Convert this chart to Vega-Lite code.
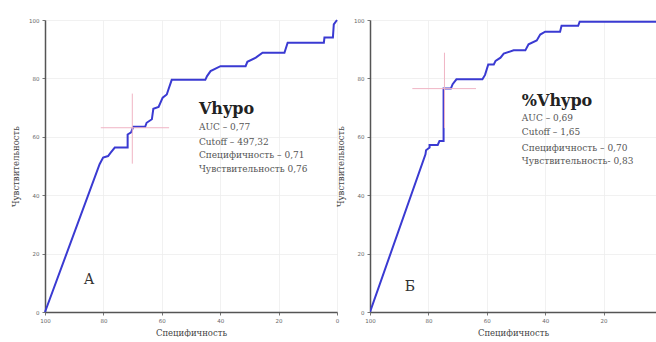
{
  "$schema": "https://vega.github.io/schema/vega-lite/v6.json",
  "padding": {"left": 11, "top": 16, "right": 0, "bottom": 0},
  "background": "white",
  "spacing": 33,
  "bounds": "flush",
  "datasets": {
    "curve": [
      {"panel": "A", "i": 1, "spec": 100, "sens": 0},
      {"panel": "A", "i": 2, "spec": 81.3, "sens": 50.6},
      {"panel": "A", "i": 3, "spec": 80.1, "sens": 52.9},
      {"panel": "A", "i": 4, "spec": 78.4, "sens": 53.4},
      {"panel": "A", "i": 5, "spec": 77.5, "sens": 54.6},
      {"panel": "A", "i": 6, "spec": 76.1, "sens": 56.3},
      {"panel": "A", "i": 7, "spec": 71.7, "sens": 56.3},
      {"panel": "A", "i": 8, "spec": 71.7, "sens": 60.8},
      {"panel": "A", "i": 9, "spec": 70.5, "sens": 61.5},
      {"panel": "A", "i": 10, "spec": 69.8, "sens": 63.4},
      {"panel": "A", "i": 11, "spec": 65.7, "sens": 63.4},
      {"panel": "A", "i": 12, "spec": 65.2, "sens": 64.8},
      {"panel": "A", "i": 13, "spec": 63.4, "sens": 66.0},
      {"panel": "A", "i": 14, "spec": 62.9, "sens": 69.6},
      {"panel": "A", "i": 15, "spec": 61.1, "sens": 70.2},
      {"panel": "A", "i": 16, "spec": 59.7, "sens": 73.4},
      {"panel": "A", "i": 17, "spec": 58.3, "sens": 74.5},
      {"panel": "A", "i": 18, "spec": 57.7, "sens": 76.3},
      {"panel": "A", "i": 19, "spec": 56.6, "sens": 79.5},
      {"panel": "A", "i": 20, "spec": 45.1, "sens": 79.5},
      {"panel": "A", "i": 21, "spec": 44.5, "sens": 80.8},
      {"panel": "A", "i": 22, "spec": 43.3, "sens": 82.5},
      {"panel": "A", "i": 23, "spec": 39.9, "sens": 84.2},
      {"panel": "A", "i": 24, "spec": 31.3, "sens": 84.2},
      {"panel": "A", "i": 25, "spec": 30.7, "sens": 85.7},
      {"panel": "A", "i": 26, "spec": 27.8, "sens": 87.1},
      {"panel": "A", "i": 27, "spec": 25.5, "sens": 88.8},
      {"panel": "A", "i": 28, "spec": 18.0, "sens": 88.8},
      {"panel": "A", "i": 29, "spec": 16.9, "sens": 92.2},
      {"panel": "A", "i": 30, "spec": 4.5, "sens": 92.2},
      {"panel": "A", "i": 31, "spec": 4.3, "sens": 94.0},
      {"panel": "A", "i": 32, "spec": 1.4, "sens": 94.0},
      {"panel": "A", "i": 33, "spec": 1.1, "sens": 98.5},
      {"panel": "A", "i": 34, "spec": 0, "sens": 100},
      {"panel": "B", "i": 1, "spec": 100, "sens": 0},
      {"panel": "B", "i": 2, "spec": 81.0, "sens": 54.0},
      {"panel": "B", "i": 3, "spec": 80.8, "sens": 55.4},
      {"panel": "B", "i": 4, "spec": 79.6, "sens": 56.3},
      {"panel": "B", "i": 5, "spec": 79.6, "sens": 57.2},
      {"panel": "B", "i": 6, "spec": 76.8, "sens": 57.2},
      {"panel": "B", "i": 7, "spec": 76.2, "sens": 58.6},
      {"panel": "B", "i": 8, "spec": 74.8, "sens": 58.6},
      {"panel": "B", "i": 9, "spec": 74.8, "sens": 76.5},
      {"panel": "B", "i": 10, "spec": 72.3, "sens": 76.5},
      {"panel": "B", "i": 11, "spec": 71.7, "sens": 78.0},
      {"panel": "B", "i": 12, "spec": 70.4, "sens": 79.7},
      {"panel": "B", "i": 13, "spec": 61.5, "sens": 79.7},
      {"panel": "B", "i": 14, "spec": 60.6, "sens": 81.2},
      {"panel": "B", "i": 15, "spec": 59.5, "sens": 84.8},
      {"panel": "B", "i": 16, "spec": 57.6, "sens": 84.8},
      {"panel": "B", "i": 17, "spec": 57.0, "sens": 86.0},
      {"panel": "B", "i": 18, "spec": 55.3, "sens": 87.1},
      {"panel": "B", "i": 19, "spec": 54.2, "sens": 88.5},
      {"panel": "B", "i": 20, "spec": 50.8, "sens": 89.6},
      {"panel": "B", "i": 21, "spec": 46.8, "sens": 89.6},
      {"panel": "B", "i": 22, "spec": 45.7, "sens": 91.7},
      {"panel": "B", "i": 23, "spec": 42.9, "sens": 93.0},
      {"panel": "B", "i": 24, "spec": 41.7, "sens": 95.0},
      {"panel": "B", "i": 25, "spec": 40.0, "sens": 96.0},
      {"panel": "B", "i": 26, "spec": 34.9, "sens": 96.0},
      {"panel": "B", "i": 27, "spec": 34.4, "sens": 98.0},
      {"panel": "B", "i": 28, "spec": 28.7, "sens": 98.0},
      {"panel": "B", "i": 29, "spec": 28.2, "sens": 99.4},
      {"panel": "B", "i": 30, "spec": 0, "sens": 99.4}
    ],
    "cross": [
      {"panel": "A", "spec": 80.9, "spec2": 57.5, "sens": 63.1, "sens2": 63.1},
      {"panel": "A", "spec": 70.1, "spec2": 70.1, "sens": 74.8, "sens2": 50.8},
      {"panel": "B", "spec": 85.5, "spec2": 63.7, "sens": 76.5, "sens2": 76.5},
      {"panel": "B", "spec": 74.5, "spec2": 74.5, "sens": 88.8, "sens2": 63.0}
    ],
    "notes": [
      {"panel": "A", "kind": "title", "spec": 47.3, "sens": 67.8, "label": "Vhypo"},
      {"panel": "A", "kind": "line", "spec": 47.3, "sens": 62.3, "label": "AUC – 0,77"},
      {"panel": "A", "kind": "line", "spec": 47.3, "sens": 57.2, "label": "Cutoff – 497,32"},
      {"panel": "A", "kind": "line", "spec": 47.3, "sens": 52.7, "label": "Специфичность  – 0,71"},
      {"panel": "A", "kind": "line", "spec": 47.3, "sens": 47.9, "label": "Чувствительность 0,76"},
      {"panel": "A", "kind": "letter", "spec": 84.9, "sens": 11.0, "label": "А"},
      {"panel": "B", "kind": "title", "spec": 48.0, "sens": 70.5, "label": "%Vhypo"},
      {"panel": "B", "kind": "line", "spec": 48.0, "sens": 65.4, "label": "AUC – 0,69"},
      {"panel": "B", "kind": "line", "spec": 48.0, "sens": 60.6, "label": "Cutoff – 1,65"},
      {"panel": "B", "kind": "line", "spec": 48.0, "sens": 55.1, "label": "Специфичность  – 0,70"},
      {"panel": "B", "kind": "line", "spec": 48.0, "sens": 50.7, "label": "Чувствительность- 0,83"},
      {"panel": "B", "kind": "letter", "spec": 86.3, "sens": 8.6, "label": "Б"}
    ]
  },
  "hconcat": [
    {
      "width": 292,
      "height": 292,
      "layer": [
        {
          "data": {"name": "curve"},
          "transform": [{"filter": "datum.panel == 'A'"}],
          "mark": {"type": "line", "color": "#3a3ad2", "strokeWidth": 2},
          "encoding": {
            "x": {"field": "spec", "type": "quantitative", "title": "Специфичность", "scale": {"domain": [100, 0], "nice": false},
                  "axis": {"values": [0, 10, 20, 30, 40, 50, 60, 70, 80, 90, 100], "labelExpr": "datum.value % 20 == 0 ? datum.label : ''"}},
            "y": {"field": "sens", "type": "quantitative", "title": "Чувствительность", "scale": {"domain": [0, 100], "nice": false},
                  "axis": {"values": [0, 10, 20, 30, 40, 50, 60, 70, 80, 90, 100], "labelExpr": "datum.value % 20 == 0 ? datum.label : ''"}},
            "order": {"field": "i", "type": "quantitative"}
          }
        },
        {
          "data": {"name": "cross"},
          "transform": [{"filter": "datum.panel == 'A'"}],
          "mark": {"type": "rule", "color": "#f0b4c4", "strokeWidth": 1},
          "encoding": {
            "x": {"field": "spec", "type": "quantitative", "title": "Специфичность"},
            "x2": {"field": "spec2"},
            "y": {"field": "sens", "type": "quantitative", "title": "Чувствительность"},
            "y2": {"field": "sens2"}
          }
        },
        {
          "data": {"name": "notes"},
          "transform": [{"filter": "datum.panel == 'A' && datum.kind == 'title'"}],
          "mark": {"type": "text", "align": "left", "baseline": "alphabetic", "font": "DejaVu Serif", "fontWeight": "bold", "fontSize": 16, "color": "#222"},
          "encoding": {
            "x": {"field": "spec", "type": "quantitative", "title": "Специфичность"},
            "y": {"field": "sens", "type": "quantitative", "title": "Чувствительность"},
            "text": {"field": "label"}
          }
        },
        {
          "data": {"name": "notes"},
          "transform": [{"filter": "datum.panel == 'A' && datum.kind == 'line'"}],
          "mark": {"type": "text", "align": "left", "baseline": "alphabetic", "font": "DejaVu Serif", "fontSize": 9, "color": "#555"},
          "encoding": {
            "x": {"field": "spec", "type": "quantitative", "title": "Специфичность"},
            "y": {"field": "sens", "type": "quantitative", "title": "Чувствительность"},
            "text": {"field": "label"}
          }
        },
        {
          "data": {"name": "notes"},
          "transform": [{"filter": "datum.panel == 'A' && datum.kind == 'letter'"}],
          "mark": {"type": "text", "align": "center", "baseline": "middle", "font": "DejaVu Serif", "fontSize": 14, "color": "#333"},
          "encoding": {
            "x": {"field": "spec", "type": "quantitative", "title": "Специфичность"},
            "y": {"field": "sens", "type": "quantitative", "title": "Чувствительность"},
            "text": {"field": "label"}
          }
        }
      ]
    },
    {
      "width": 286,
      "height": 292,
      "layer": [
        {
          "data": {"name": "curve"},
          "transform": [{"filter": "datum.panel == 'B'"}],
          "mark": {"type": "line", "color": "#3a3ad2", "strokeWidth": 2, "clip": true},
          "encoding": {
            "x": {"field": "spec", "type": "quantitative", "title": "Специфичность", "scale": {"domain": [100, 2.05], "nice": false},
                  "axis": {"values": [10, 20, 30, 40, 50, 60, 70, 80, 90, 100], "labelExpr": "datum.value % 20 == 0 ? datum.label : ''"}},
            "y": {"field": "sens", "type": "quantitative", "title": "Чувствительность", "scale": {"domain": [0, 100], "nice": false},
                  "axis": {"values": [0, 10, 20, 30, 40, 50, 60, 70, 80, 90, 100], "labelExpr": "datum.value % 20 == 0 ? datum.label : ''"}},
            "order": {"field": "i", "type": "quantitative"}
          }
        },
        {
          "data": {"name": "cross"},
          "transform": [{"filter": "datum.panel == 'B'"}],
          "mark": {"type": "rule", "color": "#f0b4c4", "strokeWidth": 1},
          "encoding": {
            "x": {"field": "spec", "type": "quantitative", "title": "Специфичность"},
            "x2": {"field": "spec2"},
            "y": {"field": "sens", "type": "quantitative", "title": "Чувствительность"},
            "y2": {"field": "sens2"}
          }
        },
        {
          "data": {"name": "notes"},
          "transform": [{"filter": "datum.panel == 'B' && datum.kind == 'title'"}],
          "mark": {"type": "text", "align": "left", "baseline": "alphabetic", "font": "DejaVu Serif", "fontWeight": "bold", "fontSize": 16, "color": "#222"},
          "encoding": {
            "x": {"field": "spec", "type": "quantitative", "title": "Специфичность"},
            "y": {"field": "sens", "type": "quantitative", "title": "Чувствительность"},
            "text": {"field": "label"}
          }
        },
        {
          "data": {"name": "notes"},
          "transform": [{"filter": "datum.panel == 'B' && datum.kind == 'line'"}],
          "mark": {"type": "text", "align": "left", "baseline": "alphabetic", "font": "DejaVu Serif", "fontSize": 9, "color": "#555"},
          "encoding": {
            "x": {"field": "spec", "type": "quantitative", "title": "Специфичность"},
            "y": {"field": "sens", "type": "quantitative", "title": "Чувствительность"},
            "text": {"field": "label"}
          }
        },
        {
          "data": {"name": "notes"},
          "transform": [{"filter": "datum.panel == 'B' && datum.kind == 'letter'"}],
          "mark": {"type": "text", "align": "center", "baseline": "middle", "font": "DejaVu Serif", "fontSize": 14, "color": "#333"},
          "encoding": {
            "x": {"field": "spec", "type": "quantitative", "title": "Специфичность"},
            "y": {"field": "sens", "type": "quantitative", "title": "Чувствительность"},
            "text": {"field": "label"}
          }
        }
      ]
    }
  ],
  "config": {
    "view": {"stroke": null},
    "axis": {
      "domainColor": "#555555",
      "domainWidth": 1.5,
      "tickColor": "#777777",
      "tickSize": 3,
      "labelFont": "DejaVu Sans",
      "labelFontSize": 5.5,
      "labelColor": "#666666",
      "labelFlush": false,
      "labelPadding": 3,
      "titleFont": "DejaVu Serif",
      "titleFontSize": 8.5,
      "titleFontWeight": "normal",
      "titleColor": "#444444",
      "gridColor": "#eeeeee",
      "gridWidth": 0.8
    },
    "axisX": {"titlePadding": 5},
    "axisY": {"titlePadding": 8}
  }
}
